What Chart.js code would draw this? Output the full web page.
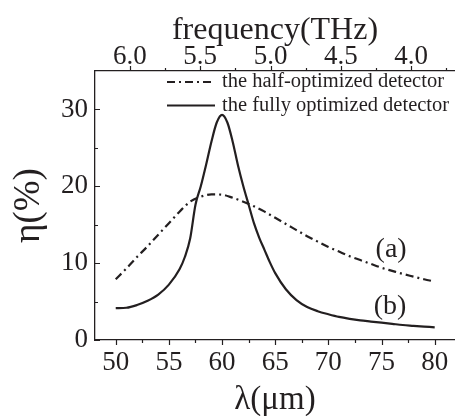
<!DOCTYPE html>
<html>
<head>
<meta charset="utf-8">
<script src="https://cdn.jsdelivr.net/npm/chart.js@4"></script>
<style>
  body { margin: 0; background: #fff; overflow: hidden; }
  canvas { display: block; }
</style>
</head>
<body>
<canvas id="etaChart" width="455" height="416"></canvas>
<script>
// half-optimized detector, curve (a)
const lambdaA = [50, 51, 52, 53, 54, 55, 56, 57, 58, 59, 60, 61, 62, 63, 64, 65, 66, 67, 68, 69, 70, 71, 72, 73, 74, 75, 76, 77, 78, 79, 80];
const etaA = [7.9, 9.3, 10.8, 12.2, 13.7, 15.2, 16.7, 18.0, 18.65, 18.95, 18.9, 18.5, 18.0, 17.4, 16.7, 15.9, 15.1, 14.3, 13.5, 12.8, 12.1, 11.5, 10.9, 10.4, 9.9, 9.4, 9.0, 8.6, 8.25, 7.9, 7.6];

// fully optimized detector, curve (b)
const lambdaB = [50, 51, 52, 53, 54, 55, 56, 56.5, 57, 57.5, 58, 58.5, 59, 59.5, 60, 60.5, 61, 61.5, 62, 62.5, 63, 63.5, 64, 64.5, 65, 66, 67, 68, 69, 70, 71, 72, 73, 74, 75, 76, 77, 78, 79, 80];
const etaB = [4.15, 4.2, 4.55, 5.1, 5.9, 7.2, 9.2, 10.8, 13.2, 17.6, 20.0, 22.8, 25.8, 28.3, 29.3, 28.3, 25.8, 22.7, 20.0, 17.6, 15.2, 13.3, 11.7, 10.1, 8.7, 6.6, 5.2, 4.3, 3.75, 3.35, 3.0, 2.75, 2.55, 2.4, 2.25, 2.1, 1.95, 1.85, 1.75, 1.65];

const seriesLabels = ['the half-optimized detector', 'the fully optimized detector'];

const lambdaTicks = [50, 55, 60, 65, 70, 75, 80];
const lambdaMinor = [52.5, 57.5, 62.5, 67.5, 72.5, 77.5];
const freqTicks = [6.0, 5.5, 5.0, 4.5, 4.0];
const freqMinor = [5.75, 5.25, 4.75, 4.25, 3.75];
const etaTicks = [0, 10, 20, 30];
const etaMinor = [5, 15, 25];

const curveTags = ['(a)', '(b)'];
const tagLambda = [75.9, 75.8];
const tagEta = [11.7, 4.3];

const ink = '#231f20';
const serif = '"Liberation Serif", "Times New Roman", serif';

// tick marks, legend and (a)/(b) tags
const extras = {
    id: 'extras',
    afterDraw(chart) {
        const ctx = chart.ctx;
        const x = chart.scales.x, f = chart.scales.freq, y = chart.scales.y;
        const area = chart.chartArea;
        ctx.save();
        ctx.strokeStyle = ink;
        ctx.lineWidth = 1.2;
        ctx.beginPath();
        lambdaTicks.concat(lambdaMinor).forEach(v => {
            const px = Math.round(x.getPixelForValue(v)) + 0.5;
            ctx.moveTo(px, area.bottom);
            ctx.lineTo(px, area.bottom + (lambdaTicks.includes(v) ? 5 : 3));
        });
        freqTicks.concat(freqMinor).forEach(v => {
            const px = Math.round(f.getPixelForValue(v)) + 0.5;
            ctx.moveTo(px, area.top);
            ctx.lineTo(px, area.top - (freqTicks.includes(v) ? 5 : 3));
        });
        etaTicks.concat(etaMinor).forEach(v => {
            const py = Math.round(y.getPixelForValue(v)) + 0.5;
            ctx.moveTo(area.left, py);
            ctx.lineTo(area.left + (etaTicks.includes(v) ? 5 : 3), py);
        });
        ctx.stroke();

        // legend
        ctx.font = '20.5px ' + serif;
        ctx.fillStyle = ink;
        ctx.textBaseline = 'middle';
        ctx.textAlign = 'left';
        chart.data.datasets.forEach((ds, i) => {
            const ly = area.top + 11 + i * 23.5;
            const lx = area.left + 72;
            ctx.beginPath();
            ctx.lineWidth = 2;
            ctx.setLineDash(ds.borderDash || []);
            ctx.moveTo(lx, ly);
            ctx.lineTo(lx + 48, ly);
            ctx.stroke();
            ctx.setLineDash([]);
            ctx.fillText(ds.label, lx + 55, ly);
        });

        // curve tags
        ctx.font = '28px ' + serif;
        ctx.textAlign = 'center';
        curveTags.forEach((t, i) => {
            ctx.fillText(t, x.getPixelForValue(tagLambda[i]), y.getPixelForValue(tagEta[i]));
        });
        ctx.restore();
    }
};

new Chart(document.getElementById('etaChart').getContext('2d'), {
    type: 'line',
    data: {
        datasets: [{
            label: seriesLabels[0],
            data: lambdaA.map((v, i) => ({x: v, y: etaA[i]})),
            borderColor: ink,
            borderWidth: 2.2,
            borderDash: [8, 4, 2, 4],
            pointRadius: 0,
            cubicInterpolationMode: 'monotone',
            fill: false
        }, {
            label: seriesLabels[1],
            data: lambdaB.map((v, i) => ({x: v, y: etaB[i]})),
            borderColor: ink,
            borderWidth: 2.2,
            pointRadius: 0,
            cubicInterpolationMode: 'monotone',
            fill: false
        }]
    },
    options: {
        responsive: false,
        animation: false,
        layout: { padding: 0 },
        plugins: {
            legend: { display: false },
            tooltip: { enabled: false }
        },
        scales: {
            x: {
                type: 'linear',
                position: 'bottom',
                min: 48.05,
                max: 81.91,
                afterBuildTicks: s => { s.ticks = lambdaTicks.map(v => ({value: v})); },
                afterFit: s => { s.height = 76; s.paddingLeft = 0; s.paddingRight = 0; },
                grid: { display: false, drawTicks: false },
                border: { display: true, color: ink, width: 1.3 },
                ticks: {
                    autoSkip: false,
                    maxRotation: 0,
                    padding: 9,
                    color: ink,
                    font: { family: serif, size: 27, lineHeight: 1 }
                },
                title: {
                    display: true,
                    text: 'λ(μm)',
                    color: ink,
                    font: { family: serif, size: 33, lineHeight: 1 },
                    padding: { top: 0, bottom: -1 }
                }
            },
            freq: {
                type: 'linear',
                axis: 'x',
                position: 'top',
                reverse: true,
                min: 3.687,
                max: 6.249,
                afterBuildTicks: s => { s.ticks = freqTicks.map(v => ({value: v})); },
                afterFit: s => { s.height = 71; s.paddingLeft = 0; s.paddingRight = 0; },
                grid: { display: false, drawTicks: false },
                border: { display: true, color: ink, width: 1.3 },
                ticks: {
                    autoSkip: false,
                    maxRotation: 0,
                    padding: 1,
                    color: ink,
                    font: { family: serif, size: 27, lineHeight: 1 },
                    callback: v => v.toFixed(1)
                },
                title: {
                    display: true,
                    text: 'frequency(THz)',
                    color: ink,
                    font: { family: serif, size: 32, lineHeight: 1 },
                    padding: { top: 15, bottom: 0 }
                }
            },
            y: {
                type: 'linear',
                position: 'left',
                min: 0,
                max: 35,
                afterBuildTicks: s => { s.ticks = etaTicks.map(v => ({value: v})); },
                afterFit: s => { s.width = 95; },
                grid: { display: false, drawTicks: false },
                border: { display: true, color: ink, width: 1.3 },
                ticks: {
                    autoSkip: false,
                    padding: 7,
                    color: ink,
                    font: { family: serif, size: 27, lineHeight: 1 }
                },
                title: {
                    display: true,
                    text: 'η(%)',
                    color: ink,
                    font: { family: serif, size: 37, lineHeight: 1 },
                    padding: { top: 11, bottom: 0 }
                }
            }
        }
    },
    plugins: [extras]
});
</script>
</body>
</html>
